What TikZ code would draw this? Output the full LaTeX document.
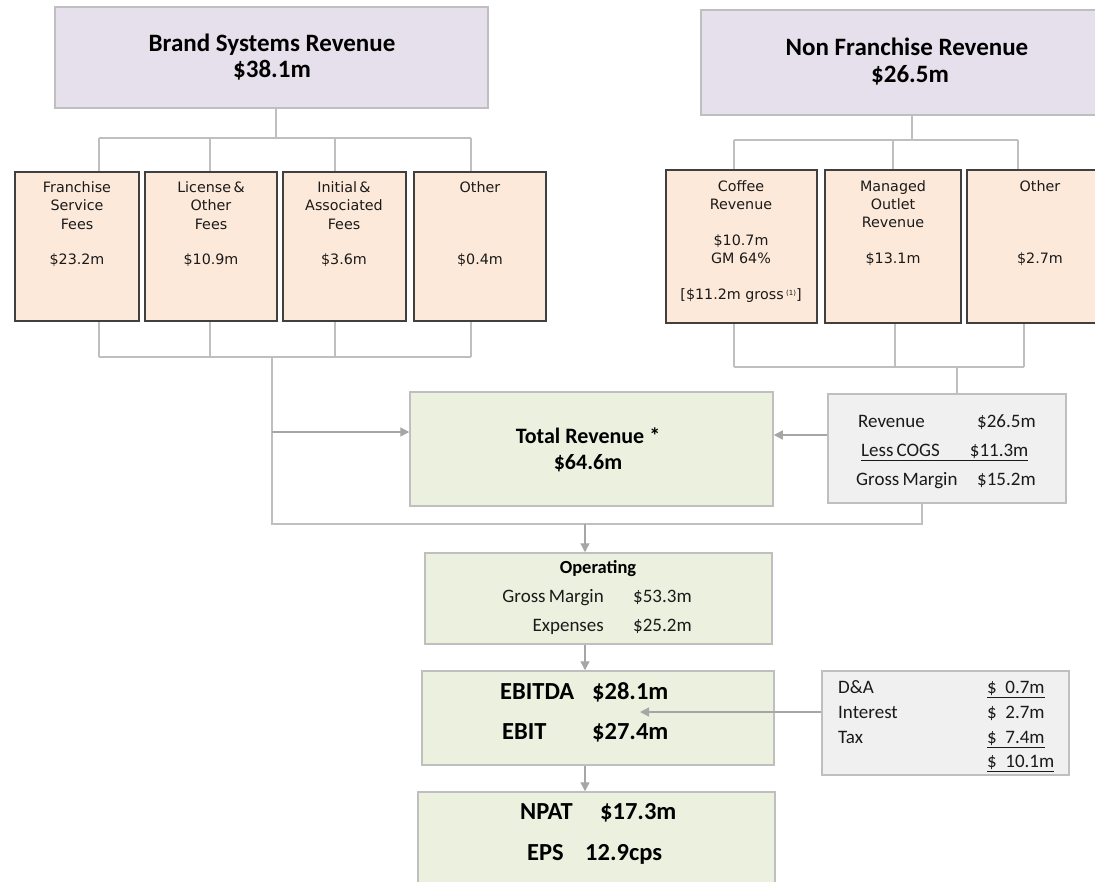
\documentclass[tikz,border=0pt]{standalone}
\usepackage{fontspec}
\setmainfont{Carlito}
\newfontfamily\dv{DejaVu Sans}
\usetikzlibrary{arrows.meta,calc}
\definecolor{lav}{HTML}{E5E0EC}
\definecolor{peach}{HTML}{FDE9D9}
\definecolor{grn}{HTML}{EBF1DE}
\definecolor{gbox}{HTML}{F0F0F0}
\definecolor{lgray}{HTML}{BFBFBF}
\definecolor{agray}{HTML}{A6A6A6}
\definecolor{dkline}{HTML}{404040}
\definecolor{txtc}{HTML}{1A1A1A}
\tikzset{
  box/.style={rectangle, inner sep=0pt, anchor=center},
  topbox/.style={box, fill=lav, draw=lgray, line width=1.2pt},
  subbox/.style={box, fill=peach, draw=dkline, line width=1.8pt},
  grnbox/.style={box, fill=grn, draw=lgray, line width=1.5pt},
  graybox/.style={box, fill=gbox, draw=lgray, line width=1.5pt},
  conn/.style={draw=lgray, line width=1.4pt},
  arr/.style={draw=agray, line width=1.4pt, -{Triangle[length=9pt,width=9pt]}},
  txt/.style={inner sep=0pt, anchor=mid, text=black},
  ttl/.style={txt, yshift=-4pt, font=\fontsize{25}{29}\selectfont\bfseries},
  big/.style={txt, yshift=-4pt, font=\fontsize{22}{26}\selectfont\bfseries},
  bigger/.style={txt, yshift=-4pt, font=\fontsize{24.5}{28}\selectfont\bfseries},
  sm/.style={txt, yshift=-2.5pt, text=txtc, font=\dv\fontsize{14.3}{17}\selectfont},
  mid/.style={txt, yshift=-4pt, text=txtc, font=\fontsize{19}{22}\selectfont},
  midb/.style={txt, yshift=-4pt, text=black, font=\fontsize{18.5}{21}\selectfont\bfseries},
}
\begin{document}
\begin{tikzpicture}[x=1pt,y=-1pt]
\clip (0,0) rectangle (1095,881);
\fill[white] (0,0) rectangle (1095,881);
% ---- boxes
\node[topbox, minimum width=433pt, minimum height=101pt] (bsr) at (271.5,57.5) {};
\node[topbox, minimum width=412pt, minimum height=105pt] (nfr) at (907,62.5) {};
\node[subbox, minimum width=124pt, minimum height=149pt] (f1) at (77,246.5) {};
\node[subbox, minimum width=132pt, minimum height=149pt] (f2) at (211,246.5) {};
\node[subbox, minimum width=123pt, minimum height=149pt] (f3) at (344.5,246.5) {};
\node[subbox, minimum width=132pt, minimum height=149pt] (f4) at (480,246.5) {};
\node[subbox, minimum width=151pt, minimum height=153pt] (c1) at (741.5,246.5) {};
\node[subbox, minimum width=136pt, minimum height=153pt] (c2) at (893,246.5) {};
\node[subbox, minimum width=146pt, minimum height=153pt] (c3) at (1040,246.5) {};
\node[grnbox, minimum width=363pt, minimum height=114pt] (tr) at (591.5,449) {};
\node[graybox, minimum width=238pt, minimum height=109pt] (cg) at (947,448.5) {};
\node[grnbox, minimum width=347pt, minimum height=91pt] (op) at (598.5,598.5) {};
\node[grnbox, minimum width=352pt, minimum height=94pt] (eb) at (598,718) {};
\node[grnbox, minimum width=357pt, minimum height=96pt] (np) at (596.5,840) {};
\node[graybox, minimum width=247pt, minimum height=104pt] (da) at (945.5,723) {};
% ---- connector coordinates
\coordinate (bj) at (276,138);
\coordinate (bt1) at (99,138); \coordinate (bt2) at (210,138);
\coordinate (bt3) at (335,138); \coordinate (bt4) at (471,138);
\coordinate (bb1) at (99,357); \coordinate (bb2) at (210,357);
\coordinate (bb3) at (335,357); \coordinate (bb4) at (471,357);
\coordinate (lj) at (272,357); \coordinate (la) at (272,432);
\coordinate (lc) at (272,524); \coordinate (rc) at (922,524);
\coordinate (oc) at (585,524);
\coordinate (nj) at (912,140);
\coordinate (rt1) at (734,140); \coordinate (rt2) at (893,140); \coordinate (rt3) at (1018,140);
\coordinate (rb1) at (734,367); \coordinate (rb2) at (895,367); \coordinate (rb3) at (1024,367);
\coordinate (rj) at (957,367);
\coordinate (ca) at (828,435);
\coordinate (dt) at (640,712);
% ---- left tree
\draw[conn] (bsr.south -| bj) -- (bj);
\draw[conn] (bt1) -- (bt4);
\draw[conn] (bt1) -- (bt1 |- f1.north);
\draw[conn] (bt2) -- (bt2 |- f2.north);
\draw[conn] (bt3) -- (bt3 |- f3.north);
\draw[conn] (bt4) -- (bt4 |- f4.north);
\draw[conn] (bb1 |- f1.south) -- (bb1);
\draw[conn] (bb2 |- f2.south) -- (bb2);
\draw[conn] (bb3 |- f3.south) -- (bb3);
\draw[conn] (bb4 |- f4.south) -- (bb4);
\draw[conn] (bb1) -- (bb4);
\draw[conn] (lj) -- (lc) -- (rc) -- (rc |- cg.south);
\draw[arr] (la) -- (la -| tr.west);
% ---- right tree
\draw[conn] (nfr.south -| nj) -- (nj);
\draw[conn] (rt1) -- (rt3);
\draw[conn] (rt1) -- (rt1 |- c1.north);
\draw[conn] (rt2) -- (rt2 |- c2.north);
\draw[conn] (rt3) -- (rt3 |- c3.north);
\draw[conn] (rb1 |- c1.south) -- (rb1);
\draw[conn] (rb2 |- c2.south) -- (rb2);
\draw[conn] (rb3 |- c3.south) -- (rb3);
\draw[conn] (rb1) -- (rb3);
\draw[conn] (rj) -- (rj |- cg.north);
\draw[arr] (cg.west |- ca) -- (tr.east |- ca);
% ---- vertical flow
\draw[arr] (oc) -- (oc |- op.north);
\draw[arr] (op.south -| oc) -- (eb.north -| oc);
\draw[arr] (eb.south -| oc) -- (np.north -| oc);
\draw[arr] (da.west |- dt) -- (dt);
% ---- texts: top
\node[ttl] (tb1) at (272,45) {Brand Systems Revenue};
\node[ttl] (tb2) at (272,71) {\$38.1m};
\node[ttl] (tn1) at (907,49) {Non Franchise Revenue};
\node[ttl] (tn2) at (910,76) {\$26.5m};
% ---- left sub boxes
\node[sm] (a1) at (77,188) {Franchise};
\node[sm] (a2) at (77,206) {Service};
\node[sm] (a3) at (77,225) {Fees};
\node[sm] (a4) at (77,260) {\$23.2m};
\node[sm] (b1) at (211,188) {License\,\&};
\node[sm] (b2) at (211,206) {Other};
\node[sm] (b3) at (211,225) {Fees};
\node[sm] (b4) at (211,260) {\$10.9m};
\node[sm] (d1) at (344,188) {Initial\,\&};
\node[sm] (d2) at (344,206) {Associated};
\node[sm] (d3) at (344,225) {Fees};
\node[sm] (d4) at (344,260) {\$3.6m};
\node[sm] (e1) at (480,188) {Other};
\node[sm] (e4) at (480,260) {\$0.4m};
% ---- right sub boxes
\node[sm] (g1) at (741,187) {Coffee};
\node[sm] (g2) at (741,205) {Revenue};
\node[sm] (g3) at (741,241) {\$10.7m};
\node[sm] (g4) at (741,259) {GM 64\%};
\node[sm] (g5) at (741,295) {[\$11.2m gross\,\raisebox{0.5ex}{\fontsize{7}{8}\selectfont(1)}]};
\node[sm] (h1) at (893,187) {Managed};
\node[sm] (h2) at (893,205) {Outlet};
\node[sm] (h3) at (893,223) {Revenue};
\node[sm] (h4) at (893,259) {\$13.1m};
\node[sm] (k1) at (1040,187) {Other};
\node[sm] (k4) at (1040,259) {\$2.7m};
% ---- total revenue
\node[big] (tt1) at (588,437) {Total Revenue *};
\node[big] (tt2) at (588,463) {\$64.6m};
% ---- cogs box
\node[mid, anchor=mid west] (q1) at (858,421) {Revenue};
\node[mid, anchor=mid west] (q2) at (977,421) {\$26.5m};
\node[mid, anchor=mid west] (q3) at (861,450) {\underline{Less\,COGS\hspace{30pt}\$11.3m}};
\node[mid, anchor=mid west] (q5) at (856,479) {Gross\,Margin};
\node[mid, anchor=mid west] (q6) at (977,479) {\$15.2m};
% ---- operating
\node[midb] (o1) at (598,567) {Operating};
\node[mid, anchor=mid east] (o2) at (604,596) {Gross\,Margin};
\node[mid, anchor=mid west] (o3) at (633,596) {\$53.3m};
\node[mid, anchor=mid east] (o4) at (604,625) {Expenses};
\node[mid, anchor=mid west] (o5) at (633,625) {\$25.2m};
% ---- ebitda
\node[bigger, anchor=mid west] (m1) at (500,693) {EBITDA};
\node[bigger, anchor=mid west] (m2) at (592,693) {\$28.1m};
\node[bigger, anchor=mid west] (m3) at (502,733) {EBIT};
\node[bigger, anchor=mid west] (m4) at (592,733) {\$27.4m};
% ---- npat
\node[bigger, anchor=mid west] (n1) at (520,813) {NPAT};
\node[bigger, anchor=mid west] (n2) at (600,813) {\$17.3m};
\node[bigger, anchor=mid west] (n3) at (527,854) {EPS};
\node[bigger, anchor=mid west] (n4) at (585,854) {12.9cps};
% ---- D&A box
\node[mid, anchor=mid west] (p1) at (838,687) {D\&A};
\node[mid, anchor=mid west] (p2) at (838,712) {Interest};
\node[mid, anchor=mid west] (p3) at (838,737) {Tax};
\node[mid, anchor=mid west] (v1) at (987,687) {\underline{\$\ \ 0.7m}};
\node[mid, anchor=mid west] (v2) at (987,712) {\$\ \ 2.7m};
\node[mid, anchor=mid west] (v3) at (987,737) {\underline{\$\ \ 7.4m}};
\node[mid, anchor=mid west] (v4) at (987,761) {\underline{\$\ \ 10.1m}};
\end{tikzpicture}
\end{document}
